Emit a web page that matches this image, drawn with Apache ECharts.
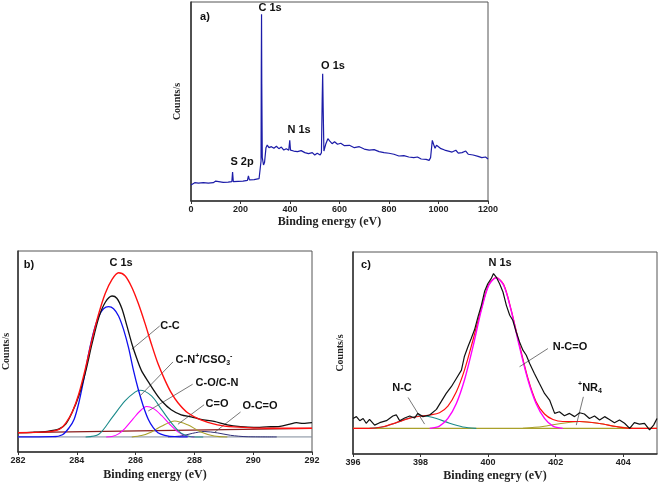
<!DOCTYPE html>
<html>
<head>
<meta charset="utf-8">
<script src="https://cdn.jsdelivr.net/npm/echarts@6/dist/echarts.min.js"></script>
<style>html,body{margin:0;padding:0;background:#fff}#c{width:660px;height:485px}</style>
</head>
<body>
<div id="c"></div>
<script>
// ---------- Panel a: survey spectrum ----------
const surveyEV = [0,5,15,30,50,70,90,100,105,130,150,165,168,171,190,210,228,232,236,255,275,280,283,284,285,286,288,293,297,303,308,315,325,335,345,355,365,375,385,395,399,402,415,430,445,460,475,490,500,510,522,527,530,532,534,537,545,553,560,570,580,592,605,620,640,660,680,700,720,740,760,780,800,820,840,860,880,900,915,930,950,962,968,975,980,986,992,1000,1010,1025,1040,1055,1070,1080,1095,1110,1120,1140,1160,1175,1190,1200];
const surveyCounts = [8.0,8.5,9.2,9.0,9.2,9.0,9.2,10.0,9.2,9.4,9.5,9.7,14.6,9.7,9.9,10.0,10.4,12.6,10.6,10.7,11.2,11.6,20.1,67,93.8,58.6,21.8,18.1,19.3,26.8,28.1,26.8,27.3,26.5,27.5,26.3,27.1,25.6,26.3,25.5,30.5,25.6,25.1,24.8,25.3,24.3,23.8,24.3,23.1,24.0,23.1,24.3,50.3,64.0,46.9,25.1,28.8,31.3,30.2,28.8,29.8,28.5,29.0,27.8,28.0,26.8,27.3,26.1,25.6,25.8,24.8,24.3,24.0,23.5,22.6,22.8,22.1,21.8,22.1,21.1,20.9,20.4,21.8,30.5,28.5,26.5,28.0,27.5,26.3,25.6,25.1,24.6,25.5,24.1,24.3,25.1,23.5,23.1,22.4,21.8,22.1,21.1];
const surveyTicks = [0,200,400,600,800,1000,1200];

// ---------- Panel b: C 1s ----------
const c1sRaw = [[282,9.6],[282.5,9.8],[283,10.3],[283.4,11.5],[283.63,14],[283.85,20],[284.07,28],[284.3,40],[284.52,54],[284.75,67],[284.97,74.5],[285.2,77.6],[285.36,76.5],[285.53,71.5],[285.7,63],[285.87,54],[286.04,46.5],[286.2,40.5],[286.43,35],[286.65,30],[286.88,25.5],[287.21,21],[287.55,18.5],[287.89,17.5],[288.22,16.2],[288.67,15.2],[289.12,13.5],[289.57,12.6],[290.02,12.2],[290.46,12.5],[290.91,12.8],[291.25,13.9],[291.47,14.6],[291.7,14.2],[292,14.6]];
const c1sEnvelope = [[282,9.6],[283,10],[283.4,11.2],[283.63,14.5],[283.85,20],[284.07,29],[284.3,42],[284.52,56],[284.75,69],[284.97,79],[285.2,85.9],[285.42,89.2],[285.64,87.7],[285.87,82],[286.09,74],[286.32,64],[286.54,53.6],[286.76,44],[286.99,36],[287.21,29.5],[287.44,24.5],[287.77,19.5],[288.22,16],[288.78,13.5],[289.34,12.5],[290.46,11.8],[292,11.8]];
const c1sCC = [[282,7.5],[283.18,7.6],[283.51,8.6],[283.74,12.1],[283.91,16.3],[284.07,24.5],[284.24,36.2],[284.41,49.4],[284.58,60.2],[284.75,67.7],[284.91,71.3],[285.08,72.3],[285.25,71.3],[285.42,67.7],[285.59,61],[285.76,51.9],[285.92,41.1],[286.09,31.2],[286.26,22.9],[286.43,16.3],[286.6,12.1],[286.76,9.6],[286.99,8.3],[287.33,7.6],[287.77,7.5]];
const c1sCN = [[284.3,7.5],[284.75,8.8],[285.2,17.1],[285.64,25.4],[285.98,29.8],[286.15,30.7],[286.54,27.9],[286.88,21.2],[287.21,14.6],[287.55,9.3],[287.89,7.6],[288.3,7.5]];
const c1sCO = [[285.0,7.5],[285.2,7.7],[285.42,9],[285.64,11.8],[285.92,16.6],[286.15,20.4],[286.37,22.6],[286.6,21.7],[286.88,18.2],[287.16,13.8],[287.44,10],[287.72,8],[288.0,7.5]];
const c1sCdO = [[285.87,7.5],[286.2,8.2],[286.54,10],[286.88,12.8],[287.33,15.4],[287.77,13.5],[288.22,10],[288.67,8],[289.12,7.5]];
const c1sOCO = [[287.1,7.5],[287.55,8],[287.94,9.3],[288.33,10.2],[288.78,9.5],[289.23,8.3],[289.79,7.6],[290.8,7.5]];
const c1sBackground = [[282,9.6],[292,11.8]];
const c1sBaseline = [[282,7.5],[292,7.5]];
const c1sTicks = [282,284,286,288,290,292];

// ---------- Panel c: N 1s ----------
const n1sRaw = [[396.0,17.6],[396.1,18.5],[396.2,16.5],[396.3,17.6],[396.39,15.2],[396.49,17.1],[396.64,14.3],[396.79,15.5],[396.99,16.5],[397.18,18.8],[397.28,19.4],[397.38,16.5],[397.53,17.8],[397.68,18.8],[397.82,17.8],[397.92,20.1],[398.07,18.5],[398.27,19.3],[398.47,22.1],[398.61,25.9],[398.76,30],[398.91,33.3],[399.06,37.4],[399.21,41.5],[399.3,48.4],[399.4,53],[399.5,57.2],[399.6,61.6],[399.7,67.9],[399.8,73.6],[399.9,80.7],[399.99,84.3],[400.09,86.8],[400.16,89.3],[400.24,87.6],[400.34,84.3],[400.44,80.2],[400.54,73.6],[400.64,68.7],[400.73,66.2],[400.83,60.5],[400.93,55.5],[401.03,51.4],[401.13,48.9],[401.23,44.8],[401.37,39.9],[401.52,34.9],[401.67,30],[401.82,26.7],[401.97,20.1],[402.11,20.9],[402.26,18.9],[402.41,20.1],[402.56,18.5],[402.71,20.4],[402.85,19.8],[403.0,17.6],[403.15,18.8],[403.3,16.8],[403.45,18.5],[403.59,17.1],[403.74,15.5],[403.89,16.8],[404.04,15.2],[404.19,12.7],[404.33,15.5],[404.48,14.8],[404.63,15.2],[404.78,11.9],[404.9,14.3],[405.0,17.6]];
const n1sEnvelope = [[396.0,12.7],[396.49,12.7],[396.89,13.5],[397.28,15.5],[397.68,17.8],[398.07,18.9],[398.27,19.3],[398.56,20.4],[398.81,23.7],[399.06,30.8],[399.3,41.5],[399.55,56.3],[399.8,72],[400.02,83.9],[400.24,87.3],[400.46,83.9],[400.68,71.5],[400.93,53.9],[401.18,37.4],[401.42,25.9],[401.67,19.8],[401.92,17.1],[402.21,16.1],[402.71,16.1],[403.3,15.1],[403.79,13.6],[404.28,12.7],[405.0,12.7]];
const n1sNCO = [[398.27,12.7],[398.56,13.8],[398.81,17.6],[399.06,25],[399.3,36.6],[399.55,53],[399.8,71.2],[400.02,83.5],[400.24,87.3],[400.46,83.5],[400.68,71.2],[400.93,53],[401.18,36.6],[401.42,25],[401.67,17.6],[401.92,13.8],[402.21,12.7]];
const n1sNC = [[396.49,12.7],[396.89,13.5],[397.28,15.5],[397.68,17.8],[398.07,18.9],[398.47,17.6],[398.86,15.2],[399.25,13.4],[399.65,12.7]];
const n1sNR4 = [[401.03,12.7],[401.62,13.6],[402.11,15.0],[402.71,16.1],[403.3,15.1],[403.79,13.6],[404.28,12.7]];
const n1sBaseline = [[396,12.7],[405,12.7]];
const n1sTicks = [396,398,400,402,404];

// ---------- chart ----------
const tickFont = {fontFamily:'Liberation Sans', fontWeight:'bold', fontSize:9, color:'#222'};
const titleFont = {fontFamily:'Liberation Serif', fontWeight:'bold', fontSize:12, color:'#222', padding:[0,20,0,0]};
const yNameFont = {fontFamily:'Liberation Serif', fontWeight:'bold', fontSize:10, color:'#222'};
const axisLine = {show:true, lineStyle:{color:'#333', width:1.5}};

function xAx(gi, min, max, interval, name, gap, showMax) {
  return {type:'value', gridIndex:gi, min:min, max:max, interval:interval,
    name:name, nameLocation:'middle', nameGap:gap, nameTextStyle:titleFont,
    axisLine:axisLine, axisTick:{show:true, inside:false, length:3, lineStyle:{color:'#333'}},
    axisLabel:Object.assign({margin:4, showMaxLabel:showMax, formatter:v => String(v)}, tickFont), splitLine:{show:false}};
}
function yAx(gi, gap) {
  return {type:'value', gridIndex:gi, min:0, max:100, name:'Counts/s', nameLocation:'middle',
    nameGap:gap, nameTextStyle:yNameFont, axisLine:axisLine, axisTick:{show:false},
    axisLabel:{show:false}, splitLine:{show:false}};
}
function line(gi, data, color, width, smooth, z) {
  return {type:'line', xAxisIndex:gi, yAxisIndex:gi, data:data, showSymbol:false, symbol:'none',
    smooth:smooth, lineStyle:{color:color, width:width}, z:z||2, silent:true};
}
function arrows(pairs) {
  return {silent:true, symbol:['none','arrow'], symbolSize:[0,6], animation:false,
    label:{show:false}, lineStyle:{color:'#555', width:0.8, type:'solid'},
    emphasis:{disabled:true},
    data:pairs.map(p => [{coord:p[0]},{coord:p[1]}])};
}

const surveyData = surveyEV.map((e,i) => [e, surveyCounts[i]]);

const lblFont = 'bold 11px "Liberation Sans", Arial, sans-serif';
function txt(x, y, t) {
  return {type:'text', x:x, y:y, silent:true,
    style:{text:t, font:lblFont, fill:'#111', align:'center', verticalAlign:'middle', textAlign:'center', textVerticalAlign:'middle'}};
}
function richTxt(x, y, t) {
  return {type:'text', x:x, y:y, silent:true,
    style:{text:t, font:lblFont, fill:'#111', align:'center', verticalAlign:'middle', textAlign:'center', textVerticalAlign:'middle',
      rich:{
        n:{font:lblFont, fill:'#111', lineHeight:14},
        sup:{fontFamily:'Liberation Sans', fontWeight:'bold', fontSize:7, fill:'#111', lineHeight:14, verticalAlign:'top', padding:[0,0,5,0]},
        sub:{fontFamily:'Liberation Sans', fontWeight:'bold', fontSize:7, fill:'#111', lineHeight:14, verticalAlign:'bottom', padding:[5,0,0,0]}
      }}};
}

const S = 0.3;
const chart = echarts.init(document.getElementById('c'), null, {renderer:'canvas'});
const bSeries = [
  line(1, c1sBaseline, '#7d8a99', 1, false, 1),
  line(1, c1sBackground, '#8b1c1c', 1.2, false, 2),
  line(1, c1sOCO, '#30307a', 1, S, 3),
  line(1, c1sCdO, '#a9a02a', 1.1, S, 3),
  line(1, c1sCO, '#ff00ff', 1.1, S, 3),
  line(1, c1sCN, '#1a8a8a', 1.1, S, 3),
  line(1, c1sCC, '#1010ee', 1.3, S, 4),
  line(1, c1sRaw, '#111111', 1.3, S, 5),
  line(1, c1sEnvelope, '#ff1010', 1.4, S, 6)
];
bSeries[0].markLine = arrows([
  [[285.87,51.1],[286.82,62.7]],
  [[286.15,27.9],[287.27,44.8]],
  [[286.43,20.4],[287.94,33.7]],
  [[287.44,13.8],[288.33,23.5]],
  [[288.67,9.6],[289.57,19.9]]
]);
const cSeries = [
  line(2, n1sBaseline, '#a9a02a', 1.3, false, 1),
  line(2, n1sNC, '#1a8a8a', 1.1, S, 3),
  line(2, n1sNR4, '#a9a02a', 1.1, S, 3),
  line(2, n1sEnvelope, '#ff1010', 1.2, S, 3),
  line(2, n1sNCO, '#ff00ff', 1.4, S, 4),
  line(2, n1sRaw, '#111111', 1.2, false, 5)
];
cSeries[0].markLine = arrows([
  [[400.93,43.2],[401.77,52.2]],
  [[398.12,14.8],[397.63,28.0]],
  [[402.61,14.3],[402.82,28.3]]
]);

chart.setOption({
  animation:false,
  backgroundColor:'#fff',
  grid:[
    {left:191, width:297, top:2, height:199, show:true, borderColor:'#555', borderWidth:1, backgroundColor:'transparent'},
    {left:15, width:297, top:251, height:201, show:true, borderColor:'#555', borderWidth:1, backgroundColor:'transparent'},
    {left:353, width:304, top:252, height:202, show:true, borderColor:'#555', borderWidth:1, backgroundColor:'transparent'}
  ],
  xAxis:[
    xAx(0, surveyTicks[0], surveyTicks[surveyTicks.length-1], surveyTicks[1]-surveyTicks[0], 'Binding energy (eV)', 15, true),
    xAx(1, c1sTicks[0], c1sTicks[c1sTicks.length-1], c1sTicks[1]-c1sTicks[0], 'Binding energy (eV)', 17, true),
    xAx(2, n1sTicks[0], 405, n1sTicks[1]-n1sTicks[0], 'Binding enegry (eV)', 16, false)
  ],
  yAxis:[yAx(0, 9), yAx(1, 7), yAx(2, 8)],
  series:[line(0, surveyData, '#1c1ca8', 1.2, false, 2)].concat(bSeries, cSeries),
  graphic:[
    txt(205, 17, 'a)'),
    txt(270, 8, 'C 1s'),
    txt(333, 66, 'O 1s'),
    txt(299, 130, 'N 1s'),
    txt(242, 162, 'S 2p'),
    txt(29, 265, 'b)'),
    txt(121, 263, 'C 1s'),
    txt(170, 326, 'C-C'),
    richTxt(204, 360, '{n|C-N}{sup|+}{n|/CSO}{sub|3}{sup|-}'),
    txt(217, 383, 'C-O/C-N'),
    txt(217, 404, 'C=O'),
    txt(260, 406, 'O-C=O'),
    txt(366, 265, 'c)'),
    txt(500, 263, 'N 1s'),
    txt(570, 347, 'N-C=O'),
    txt(402, 388, 'N-C'),
    richTxt(590, 388, '{sup|+}{n|NR}{sub|4}')
  ]
});
</script>
</body>
</html>
